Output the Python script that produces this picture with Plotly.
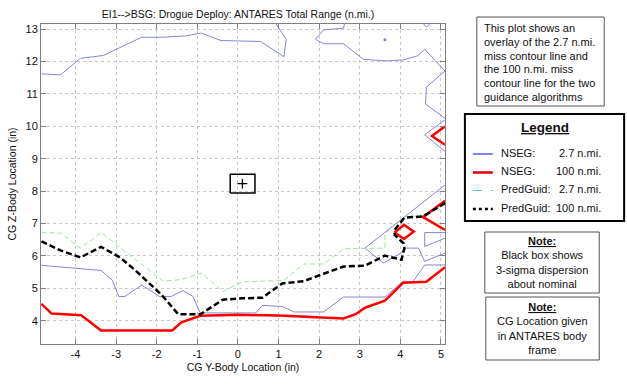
import plotly.graph_objects as go

# ---------------- data ----------------
# NSEG 2.7 n.mi. contour pieces
nseg27_top_x = [-4.84, -4.37, -3.88, -3.31, -2.86, -2.37, -1.88, -1.31, -0.90, -0.42, 0.56, 1.13, 1.19, 0.89]
nseg27_top_y = [11.62, 11.59, 12.10, 12.19, 12.46, 12.75, 12.75, 12.79, 12.88, 12.65, 12.62, 12.15, 12.69, 13.25]
nseg27_ne_x = [2.64, 2.60, 2.11, 1.91, 2.11, 2.60, 3.09, 3.66, 4.07, 4.43, 4.60, 5.10, 4.64, 4.62, 5.10]
nseg27_ne_y = [13.25, 13.03, 12.98, 12.69, 12.55, 12.55, 12.07, 12.02, 12.05, 12.18, 12.38, 11.71, 11.21, 10.69, 10.25]
nseg27_corner_x = [4.52, 4.64, 4.80]
nseg27_corner_y = [13.25, 13.06, 13.25]
nseg27_dot_x = [3.62]
nseg27_dot_y = [12.67]
nseg27_v_x = [5.10, 4.60, 5.10]
nseg27_v_y = [10.20, 9.74, 9.22]
nseg27_diag_x = [5.10, 3.13, 3.58, 3.94, 4.15, 4.45, 4.60, 5.10]
nseg27_diag_y = [8.19, 6.24, 5.78, 6.03, 6.24, 6.24, 5.83, 6.09]
nseg27_trap_x = [5.10, 4.60, 4.60, 5.10]
nseg27_trap_y = [6.72, 6.72, 6.29, 6.55]
nseg27_low_x = [-4.84, -3.37, -3.10, -2.93, -2.78, -2.37, -1.92, -1.64, -1.35, -1.11, -0.93, 0.44, 0.60,
                1.09, 1.38, 2.11, 2.60, 3.62, 4.07, 4.31, 4.60, 5.10]
nseg27_low_y = [5.71, 5.55, 5.26, 4.74, 4.75, 5.10, 4.74, 4.75, 4.93, 4.75, 4.24, 4.24, 4.47,
                4.44, 4.27, 4.27, 4.73, 4.73, 5.22, 5.20, 5.72, 5.72]

# NSEG 100 n.mi. contour pieces
nseg100_x = [-4.84, -4.59, -3.86, -3.37, -1.62, -1.39, -0.93, 0.00, 1.00, 2.00, 2.60, 2.90, 3.13, 3.62,
             4.07, 4.64, 5.10]
nseg100_y = [4.52, 4.22, 4.17, 3.70, 3.70, 3.95, 4.15, 4.18, 4.16, 4.11, 4.07, 4.20, 4.40, 4.62,
             5.17, 5.20, 5.65]
nseg100_dia_x = [3.86, 4.09, 4.33, 4.09, 3.86]
nseg100_dia_y = [6.72, 6.96, 6.75, 6.52, 6.72]
nseg100_v1_x = [5.10, 4.56, 5.10]
nseg100_v1_y = [7.70, 7.20, 6.80]
nseg100_v2_x = [5.10, 4.78, 5.10]
nseg100_v2_y = [10.00, 9.70, 9.43]

# PredGuid 2.7 n.mi.
pg27_x = [-4.84, -4.37, -3.88, -3.37, -1.84, -1.39, -0.90, -0.37, 0.11, 1.13, 1.62, 2.11, 2.60, 3.62,
          3.62, 4.08, 4.56, 5.10]
pg27_y = [6.73, 6.70, 6.24, 6.72, 5.22, 5.27, 5.47, 4.90, 5.20, 5.24, 5.75, 5.75, 6.22, 6.24,
          6.68, 7.20, 7.25, 7.72]

# PredGuid 100 n.mi.
pg100_x = [-4.84, -4.37, -3.88, -3.37, -2.90, -2.54, -1.88, -1.47, -0.92, -0.37, 0.11, 0.60, 1.09, 1.62,
           2.11, 2.60, 3.13, 3.62, 4.03, 4.10, 4.08, 3.86, 3.86, 4.10, 4.56, 5.10]
pg100_y = [6.45, 6.17, 5.95, 6.28, 5.95, 5.57, 4.80, 4.20, 4.20, 4.65, 4.69, 4.71, 5.15, 5.22,
           5.45, 5.67, 5.70, 6.01, 5.88, 6.24, 6.39, 6.65, 6.80, 7.18, 7.22, 7.63]

# nominal point and 3-sigma box
nominal_x = [0.11]
nominal_y = [8.23]
sigma_box_x = [-0.19, 0.42, 0.42, -0.19, -0.19]
sigma_box_y = [7.94, 7.94, 8.52, 8.52, 7.94]

x_ticks = [-4, -3, -2, -1, 0, 1, 2, 3, 4, 5]
x_tick_text = ["-4", "-3", "-2", "-1", "0", "1", "2", "3", "4", "5"]
y_ticks = [4, 5, 6, 7, 8, 9, 10, 11, 12, 13]
y_tick_text = ["4", "5", "6", "7", "8", "9", "10", "11", "12", "13"]

# ---------------- styling ----------------
BLUE = "#8686d6"
RED = "#ff0000"
GREEN = "#9be69b"
FONT = "Liberation Sans, Arial, sans-serif"
TXT = "#111111"

W, H = 627, 389
L, R, T, B = 39, 445, 24, 344


def px(x):
    return (x - L) / (R - L)


def py(y):
    return (B - y) / (B - T)


fig = go.Figure()


def line(x, y, color, width, dash=None):
    fig.add_trace(go.Scatter(x=x, y=y, mode="lines", showlegend=False, hoverinfo="skip",
                             line=dict(color=color, width=width, dash=dash)))


for xs, ys in [(nseg27_top_x, nseg27_top_y), (nseg27_ne_x, nseg27_ne_y), (nseg27_corner_x, nseg27_corner_y),
               (nseg27_v_x, nseg27_v_y), (nseg27_diag_x, nseg27_diag_y), (nseg27_trap_x, nseg27_trap_y),
               (nseg27_low_x, nseg27_low_y)]:
    line(xs, ys, BLUE, 1)
fig.add_trace(go.Scatter(x=nseg27_dot_x, y=nseg27_dot_y, mode="markers", showlegend=False,
                         marker=dict(color=BLUE, size=3)))

line(pg27_x, pg27_y, GREEN, 1, "5px,3px")

for xs, ys in [(nseg100_x, nseg100_y), (nseg100_dia_x, nseg100_dia_y), (nseg100_v1_x, nseg100_v1_y),
               (nseg100_v2_x, nseg100_v2_y)]:
    line(xs, ys, RED, 2.5)

line(pg100_x, pg100_y, "#000000", 2.5, "6px,3px")

line(sigma_box_x, sigma_box_y, "#000000", 1.5)
fig.add_trace(go.Scatter(x=nominal_x, y=nominal_y, mode="markers", showlegend=False,
                         marker=dict(symbol="cross-thin", size=7, line=dict(color="#000000", width=1.3))))

shapes = []
annotations = []


def box(x0, y0, x1, y1, color="#555555", width=1):
    shapes.append(dict(type="rect", xref="paper", yref="paper", x0=px(x0), x1=px(x1), y0=py(y1), y1=py(y0),
                       line=dict(color=color, width=width), fillcolor="white", layer="above"))


def text(x, y, s, size=11, xanchor="left", align="left"):
    annotations.append(dict(xref="paper", yref="paper", x=px(x), y=py(y), text=s, showarrow=False,
                            xanchor=xanchor, yanchor="middle", align=align,
                            font=dict(family=FONT, size=size, color=TXT)))


# top description box
box(477, 17, 605, 106)
desc = ["This plot shows an", "overlay of the 2.7 n.mi.", "miss contour line and",
        "the 100 n.mi. miss", "contour line for the two", "guidance algorithms"]
for i, s in enumerate(desc):
    text(482, 28.5 + i * 13.6, s, size=11)

# legend box
box(465, 114, 625, 221, color="#000000", width=2)
text(545, 127, "<b><u>Legend</u></b>", size=13.5, xanchor="center")
rows = [("NSEG:", "2.7 n.mi.", "#3333ee", 1.2, None, 152.5),
        ("NSEG:", "100 n.mi.", "#dd0000", 2.5, None, 171),
        ("PredGuid:", "2.7 n.mi.", "#44ccbb", 1, "dash", 189),
        ("PredGuid:", "100 n.mi.", "#000000", 2.5, "dot", 207.5)]
for lab, val, col, w, d, yy in rows:
    shapes.append(dict(type="line", xref="paper", yref="paper", x0=px(473), x1=px(493), y0=py(yy + 1.5),
                       y1=py(yy + 1.5), line=dict(color=col, width=w, dash=d), layer="above"))
    text(499, yy, lab, size=11)
    text(604, yy, val, size=11, xanchor="right")

# note boxes
box(485, 232, 600, 293)
text(542.5, 262.5, "<b><u>Note:</u></b><br>Black box shows<br>3-sigma dispersion<br>about nominal",
     size=11, xanchor="center", align="center")

box(486, 297, 600, 360)
text(543, 328.5, "<b><u>Note:</u></b><br>CG Location given<br>in ANTARES body<br>frame",
     size=11, xanchor="center", align="center")

axis_common = dict(showline=True, linecolor="#808080", linewidth=1, mirror="ticks", ticks="inside",
                   ticklen=5, tickcolor="#808080", showgrid=True, gridcolor="#c8c8c8", griddash="dot",
                   gridwidth=1, zeroline=False, tickfont=dict(family=FONT, size=11, color=TXT))

fig.update_layout(
    width=W, height=H, margin=dict(l=L, r=W - R, t=T, b=H - B),
    paper_bgcolor="white", plot_bgcolor="white",
    title=dict(text="EI1-->BSG: Drogue Deploy: ANTARES Total Range (n.mi.)", xref="paper",
               x=(237 - L) / (R - L), xanchor="center",
               yref="container", y=1 - 14 / H, yanchor="middle",
               font=dict(family=FONT, size=10.5, color=TXT)),
    xaxis=dict(range=[-4.85, 5.1], tickvals=x_ticks, ticktext=x_tick_text,
               title=dict(text="CG Y-Body Location (in)", font=dict(family=FONT, size=10.5, color=TXT),
                          standoff=4), **axis_common),
    yaxis=dict(range=[3.28, 13.16], tickvals=y_ticks, ticktext=y_tick_text,
               title=dict(text="CG Z-Body Location (in)", font=dict(family=FONT, size=10.5, color=TXT),
                          standoff=6), **axis_common),
    shapes=shapes, annotations=annotations,
)

fig.write_html("out.html")
